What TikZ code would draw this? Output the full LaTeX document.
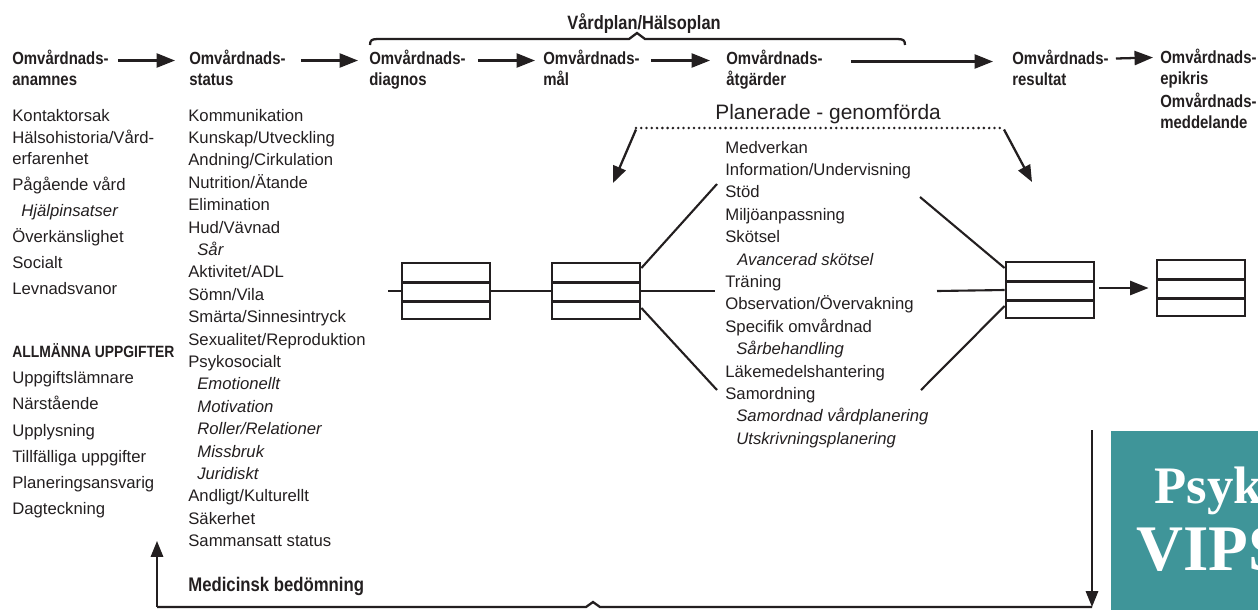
\documentclass[tikz,border=0pt]{standalone}
\usepackage{fontspec}
\setmainfont{Liberation Sans}
\newfontfamily\condfont{Liberation Sans}[FakeStretch=0.85]
\newfontfamily\vipsfont{Liberation Serif}
\usetikzlibrary{arrows.meta,calc}
\definecolor{ink}{HTML}{231F20}
\definecolor{vipsteal}{HTML}{3F9599}
\begin{document}
\begin{tikzpicture}[x=0.02cm,y=-0.02cm,
  hd/.style={font=\condfont\bfseries\fontsize{10}{12}\selectfont, inner sep=0pt, anchor=base west, text=ink},
  tx/.style={font=\fontsize{9.5}{11}\selectfont, inner sep=0pt, anchor=base west, text=ink},
  it/.style={font=\fontsize{9.5}{11}\selectfont\itshape, inner sep=0pt, anchor=base west, text=ink},
  arr/.style={line width=1.3pt, draw=ink, -{Triangle[length=10.5pt,width=8pt]}},
  thinarr/.style={line width=1.1pt, draw=ink, -{Triangle[length=9pt,width=7pt]}},
  ln/.style={line width=1.2pt, draw=ink},
  dots/.style={line width=1.6pt, draw=ink, dash pattern=on 0pt off 3pt, line cap=round},
  tribox/.style={draw=ink, line width=1.6pt, minimum width=1.76cm, minimum height=1.12cm, inner sep=0pt,
    path picture={
      \draw[ink, line width=1.6pt] ($(path picture bounding box.north west)!0.345!(path picture bounding box.south west)$) -- ($(path picture bounding box.north east)!0.345!(path picture bounding box.south east)$);
      \draw[ink, line width=1.6pt] ($(path picture bounding box.north west)!0.69!(path picture bounding box.south west)$) -- ($(path picture bounding box.north east)!0.69!(path picture bounding box.south east)$);
    }}
]
\useasboundingbox (0,0) rectangle (1258,610);

% ---------- header ----------
\node[hd, anchor=base, font=\condfont\bfseries\fontsize{11}{13}\selectfont] (vp) at (644,29) {Vårdplan/Hälsoplan};
\draw[ln, line width=1.3pt] (370,45) .. controls (370,40) and (372,39) .. (378,39) -- (629,39) -- (637,33) -- (645,39) -- (897,39) .. controls (903,39) and (905,40) .. (905,45);

\node[hd] (h1) at (12,64) {Omvårdnads-};
\node[hd] (h1b) at (12,85) {anamnes};
\node[hd] (h2) at (189,64) {Omvårdnads-};
\node[hd] (h2b) at (189,85) {status};
\node[hd] (h3) at (369,64) {Omvårdnads-};
\node[hd] (h3b) at (369,85) {diagnos};
\node[hd] (h4) at (543,64) {Omvårdnads-};
\node[hd] (h4b) at (543,85) {mål};
\node[hd] (h5) at (726,64) {Omvårdnads-};
\node[hd] (h5b) at (726,85) {åtgärder};
\node[hd] (h6) at (1012,64) {Omvårdnads-};
\node[hd] (h6b) at (1012,85) {resultat};
\node[hd] (h7) at (1160,63) {Omvårdnads-};
\node[hd] (h7b) at (1160,84) {epikris};
\node[hd] (h8) at (1160,107) {Omvårdnads-};
\node[hd] (h8b) at (1160,128) {meddelande};

\draw[arr] ([xshift=0.18cm,yshift=0.07cm]h1.base east) -- ([xshift=-0.28cm,yshift=0.07cm]h2.base west);
\draw[arr] ([xshift=0.3cm,yshift=0.07cm]h2.base east) -- ([xshift=-0.22cm,yshift=0.07cm]h3.base west);
\draw[arr] ([xshift=0.24cm,yshift=0.07cm]h3.base east) -- ([xshift=-0.16cm,yshift=0.07cm]h4.base west);
\draw[arr] ([xshift=0.22cm,yshift=0.07cm]h4.base east) -- ([xshift=-0.32cm,yshift=0.07cm]h5.base west);
\draw[arr] ([xshift=0.56cm,yshift=0.05cm]h5.base east) -- ([xshift=-0.38cm,yshift=0.05cm]h6.base west);
\draw[arr] ([xshift=0.14cm,yshift=0.11cm]h6.base east) -- ([xshift=-0.14cm,yshift=0.11cm]h7.base west);

% ---------- left column ----------
\node[tx] (a1) at (12,121) {Kontaktorsak};
\node[tx] (a2) at (12,143) {Hälsohistoria/Vård-};
\node[tx] (a3) at (12,164) {erfarenhet};
\node[tx] (a4) at (12,190) {Pågående vård};
\node[it] (a5) at (21,216) {Hjälpinsatser};
\node[tx] (a6) at (12,242) {Överkänslighet};
\node[tx] (a7) at (12,268) {Socialt};
\node[tx] (a8) at (12,294) {Levnadsvanor};

\node[hd, font=\condfont\bfseries\fontsize{9.3}{11}\selectfont] (g0) at (12,357) {ALLMÄNNA UPPGIFTER};
\node[tx] (g1) at (12,383) {Uppgiftslämnare};
\node[tx] (g2) at (12,409) {Närstående};
\node[tx] (g3) at (12,436) {Upplysning};
\node[tx] (g4) at (12,462) {Tillfälliga uppgifter};
\node[tx] (g5) at (12,488) {Planeringsansvarig};
\node[tx] (g6) at (12,514) {Dagteckning};

% ---------- status column ----------
\node[tx] (s1) at (188,121) {Kommunikation};
\node[tx] (s2) at (188,143.4) {Kunskap/Utveckling};
\node[tx] (s3) at (188,165.8) {Andning/Cirkulation};
\node[tx] (s4) at (188,188.2) {Nutrition/Ätande};
\node[tx] (s5) at (188,210.6) {Elimination};
\node[tx] (s6) at (188,233) {Hud/Vävnad};
\node[it] (s7) at (197,255.4) {Sår};
\node[tx] (s8) at (188,277.8) {Aktivitet/ADL};
\node[tx] (s9) at (188,300.2) {Sömn/Vila};
\node[tx] (s10) at (188,322.6) {Smärta/Sinnesintryck};
\node[tx] (s11) at (188,345) {Sexualitet/Reproduktion};
\node[tx] (s12) at (188,367.4) {Psykosocialt};
\node[it] (s13) at (197,389.8) {Emotionellt};
\node[it] (s14) at (197,412.2) {Motivation};
\node[it] (s15) at (197,434.6) {Roller/Relationer};
\node[it] (s16) at (197,457) {Missbruk};
\node[it] (s17) at (197,479.4) {Juridiskt};
\node[tx] (s18) at (188,501.8) {Andligt/Kulturellt};
\node[tx] (s19) at (188,524.2) {Säkerhet};
\node[tx] (s20) at (188,546.6) {Sammansatt status};

\node[hd, font=\condfont\bfseries\fontsize{11.2}{13}\selectfont] (med) at (188,591) {Medicinsk bedömning};

% ---------- middle list ----------
\node[tx, font=\fontsize{11.9}{14}\selectfont] (pg) at (715,119.5) {Planerade - genomförda};
\node[tx] (m1) at (725,153) {Medverkan};
\node[tx] (m2) at (725,175.4) {Information/Undervisning};
\node[tx] (m3) at (725,197.8) {Stöd};
\node[tx] (m4) at (725,220.2) {Miljöanpassning};
\node[tx] (m5) at (725,242.6) {Skötsel};
\node[it] (m6) at (737,265) {Avancerad skötsel};
\node[tx] (m7) at (725,287.4) {Träning};
\node[tx] (m8) at (725,309.8) {Observation/Övervakning};
\node[tx] (m9) at (725,332.2) {Specifik omvårdnad};
\node[it] (m10) at (736,354.6) {Sårbehandling};
\node[tx] (m11) at (725,377) {Läkemedelshantering};
\node[tx] (m12) at (725,399.4) {Samordning};
\node[it] (m13) at (736,421.8) {Samordnad vårdplanering};
\node[it] (m14) at (736,444.2) {Utskrivningsplanering};

% dotted bracket with arrows
\coordinate (dl) at (636,128);
\coordinate (dr) at (1004,128);
\coordinate (dlt) at (613,183);
\coordinate (drt) at (1032,182);
\draw[dots] (dl) -- (dr);
\draw[line width=1.3pt, draw=ink, -{Triangle[length=9.5pt,width=7.5pt]}] ([yshift=-0.03cm]dl) -- (dlt);
\draw[line width=1.3pt, draw=ink, -{Triangle[length=9.5pt,width=7.5pt]}] ([yshift=-0.03cm]dr) -- (drt);

% ---------- boxes ----------
\node[tribox] (b1) at (446,291) {};
\node[tribox] (b2) at (596,291) {};
\node[tribox] (b3) at (1050,290) {};
\node[tribox] (b4) at (1201,288) {};

\coordinate (st) at (388,291);
\coordinate (ft1) at (717,184);
\coordinate (fm1) at (715,291);
\coordinate (fb1) at (717,390);
\coordinate (ft2) at (920,197);
\coordinate (fm2) at (937,291);
\coordinate (fb2) at (921,390);

\draw[ln] (st) -- (b1.west);
\draw[ln] (b1.east) -- (b2.west);
\draw[ln] ([yshift=0.46cm]b2.east) -- (ft1);
\draw[ln] (b2.east) -- (fm1);
\draw[ln] ([yshift=-0.34cm]b2.east) -- (fb1);
\draw[ln] (ft2) -- ([yshift=0.44cm]b3.west);
\draw[ln] (fm2) -- (b3.west);
\draw[ln] (fb2) -- ([yshift=-0.32cm]b3.west);
\draw[arr, shorten <=0.08cm, shorten >=0.14cm] ([yshift=0.04cm]b3.east) -- ([yshift=0.04cm]b3.east -| b4.west);

% ---------- feedback loop ----------
\coordinate (dtop) at (1092,430);
\coordinate (br) at (1092,607);
\coordinate (bl) at (157,607);
\coordinate (upt) at (157,541);
\draw[thinarr] (dtop) -- (br);
\draw[ln, line width=1.3pt] (bl) -- (586,607) -- (593,602) -- (600,607) -- (br);
\draw[thinarr] (bl) -- (upt);

% ---------- teal cover ----------
\fill[vipsteal] (1111,431) rectangle (1258,610);
\begin{scope}
\clip (1111,431) rectangle (1258,610);
\node[inner sep=0pt, anchor=base west, text=white, font=\vipsfont\bfseries\fontsize{30}{36}\selectfont] (psyk) at (1154,503) {Psyk};
\node[inner sep=0pt, anchor=base west, text=white, font=\vipsfont\bfseries\fontsize{37}{44}\selectfont] (vips) at (1136,570) {VIPS};
\end{scope}
\end{tikzpicture}
\end{document}
